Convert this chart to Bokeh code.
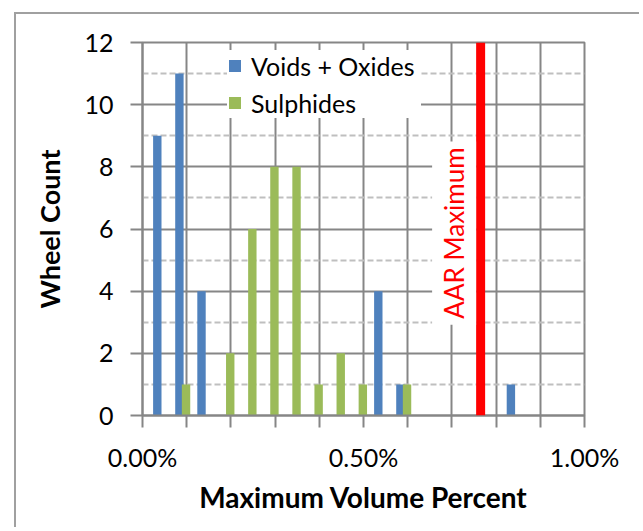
from bokeh.plotting import figure
from bokeh.models import (FixedTicker, Legend, LegendItem, Label, Span,
                          ColumnDataSource)
from bokeh.transform import dodge
from bokeh.embed import file_html
from bokeh.resources import INLINE

# ---- data ----
voids_bins = [0.05, 0.10, 0.15, 0.55, 0.60, 0.85]
voids_counts = [9, 11, 4, 4, 1, 1]
sulph_bins = [0.10, 0.20, 0.25, 0.30, 0.35, 0.40, 0.45, 0.50, 0.60]
sulph_counts = [1, 2, 6, 8, 8, 1, 2, 1, 1]
aar_maximum = 0.765
x_ticks = [0.0, 0.5, 1.0]
x_tick_labels = ["0.00%", "0.50%", "1.00%"]
y_ticks = [0, 2, 4, 6, 8, 10, 12]
y_minor = [1, 3, 5, 7, 9, 11]
x_minor = [0.1, 0.2, 0.3, 0.4, 0.6, 0.7, 0.8, 0.9]
x_grid = [0.0, 0.1, 0.2, 0.3, 0.4, 0.5, 0.6, 0.7, 0.8, 0.9, 1.0]

BLUE = "#4F81BD"
GREEN = "#9BBB59"
GRID = "#868686"
FONT = "Lato"

p = figure(width=625, height=515, x_range=(0, 1.0), y_range=(0, 12),
           output_backend="svg", toolbar_location=None,
           min_border_left=126, min_border_top=28,
           min_border_right=57, min_border_bottom=114)
p.margin = (12, 0, 0, 14)
p.styles = {"border-left": "2px solid #a0a0a0",
            "border-top": "2px solid #a0a0a0"}
p.background_fill_color = "white"
p.border_fill_color = "white"
p.outline_line_color = GRID
p.outline_line_width = 2

src_v = ColumnDataSource(dict(bin=voids_bins, count=voids_counts))
src_s = ColumnDataSource(dict(bin=sulph_bins, count=sulph_counts))

r1 = p.vbar(x=dodge("bin", -0.0165, range=p.x_range), top="count",
            width=0.019, source=src_v, fill_color=BLUE, line_color=None)
r2 = p.vbar(x=dodge("bin", -0.0015, range=p.x_range), top="count",
            width=0.019, source=src_s, fill_color=GREEN, line_color=None)

# grids
p.xgrid.ticker = FixedTicker(ticks=x_grid)
p.xgrid.grid_line_color = GRID
p.xgrid.grid_line_width = 2
p.ygrid.ticker = FixedTicker(ticks=y_ticks, minor_ticks=y_minor)
p.ygrid.grid_line_color = GRID
p.ygrid.grid_line_width = 2
p.ygrid.minor_grid_line_color = "#BFBFBF"
p.ygrid.minor_grid_line_width = 2
p.ygrid.minor_grid_line_dash = "6 3"

# x axis
xa = p.xaxis[0]
xa.ticker = FixedTicker(ticks=x_ticks, minor_ticks=x_minor)
xa.major_label_overrides = {t: l for t, l in zip(x_ticks, x_tick_labels)}
xa.axis_line_color = GRID
xa.axis_line_width = 2
xa.major_tick_line_color = GRID
xa.major_tick_line_width = 2
xa.minor_tick_line_color = GRID
xa.minor_tick_line_width = 2
xa.major_tick_in = 0
xa.major_tick_out = 12
xa.minor_tick_in = 0
xa.minor_tick_out = 12
xa.major_label_standoff = 14
xa.major_label_text_font = FONT
xa.major_label_text_font_size = "25px"
xa.major_label_text_color = "black"
xa.axis_label = "Maximum Volume Percent"
xa.axis_label_text_font = FONT
xa.axis_label_text_font_style = "bold"
xa.axis_label_text_font_size = "28px"
xa.axis_label_text_color = "black"
xa.axis_label_standoff = 5

# y axis
ya = p.yaxis[0]
ya.ticker = FixedTicker(ticks=y_ticks)
ya.axis_line_color = GRID
ya.axis_line_width = 2
ya.major_tick_line_color = GRID
ya.major_tick_line_width = 2
ya.major_tick_in = 0
ya.major_tick_out = 12
ya.minor_tick_out = 0
ya.major_label_standoff = 17
ya.major_label_text_font = FONT
ya.major_label_text_font_size = "25px"
ya.major_label_text_color = "black"
ya.axis_label = "Wheel Count"
ya.axis_label_text_font = FONT
ya.axis_label_text_font_style = "bold"
ya.axis_label_text_font_size = "27px"
ya.axis_label_text_color = "black"
ya.axis_label_standoff = 15

# AAR maximum line and label
p.add_layout(Span(location=aar_maximum, dimension="height",
                  line_color="#FF0000", line_width=9))
p.add_layout(Label(x=aar_maximum - 0.06, y=5.87, text="AAR Maximum",
                   angle=90, angle_units="deg", text_align="center",
                   text_baseline="middle", text_color="#FF0000",
                   text_font=FONT, text_font_size="26px",
                   background_fill_color="white", background_fill_alpha=1.0,
                   padding=6))

legend = Legend(items=[LegendItem(label="Voids + Oxides", renderers=[r1]),
                       LegendItem(label="Sulphides", renderers=[r2])],
                location=(85, 297), margin=0, padding=7, spacing=6,
                glyph_width=15, glyph_height=15, label_height=31,
                label_width=170, label_standoff=9,
                label_text_font=FONT, label_text_font_size="25px",
                label_text_color="black",
                border_line_color=None, background_fill_color="white",
                background_fill_alpha=1.0)
p.add_layout(legend)

open("out.html", "w").write(file_html(p, INLINE))
